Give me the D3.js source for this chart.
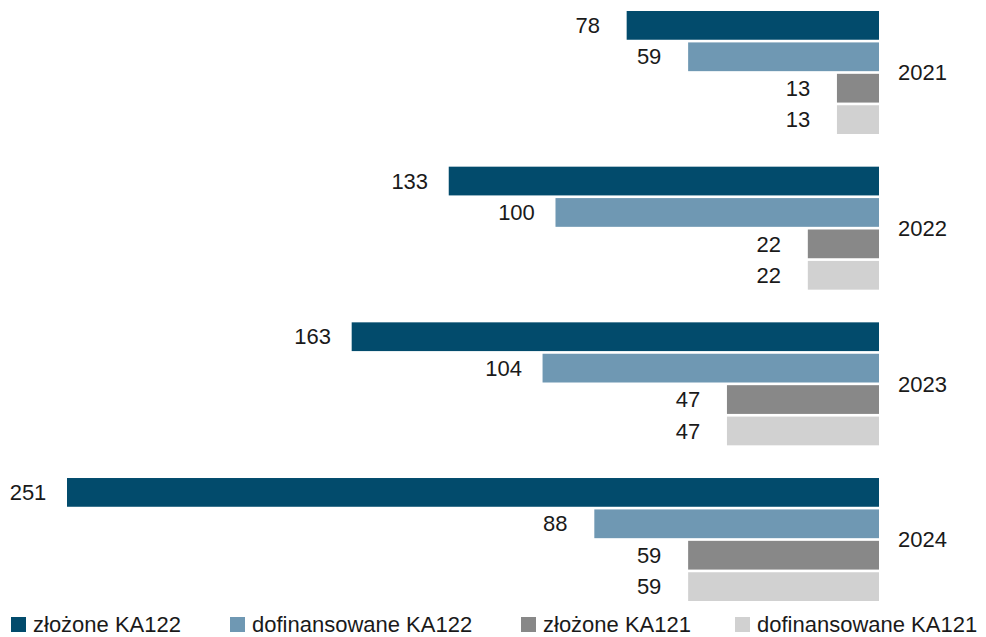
<!DOCTYPE html>
<html lang="pl">
<head>
    <meta charset="UTF-8">
    <title>KA122 / KA121</title>
    <script src="https://d3js.org/d3.v7.min.js"></script>
    <style>
        body { margin: 0; background: #fff; }
        text { font-family: "Liberation Sans", Arial, sans-serif; fill: #1a1a1a; }
    </style>
</head>
<body>
<script>
    // Dane
    const lata = ["2021", "2022", "2023", "2024"];
    const serie = ["złożone KA122", "dofinansowane KA122", "złożone KA121", "dofinansowane KA121"];
    const zlozoneKA122 = [78, 133, 163, 251];
    const dofinansowaneKA122 = [59, 100, 104, 88];
    const zlozoneKA121 = [13, 22, 47, 59];
    const dofinansowaneKA121 = [13, 22, 47, 59];
    const kolory = ["#024b6c", "#6f98b3", "#888888", "#d1d1d1"];

    const width = 986, height = 637;

    const wartosci = [zlozoneKA122, dofinansowaneKA122, zlozoneKA121, dofinansowaneKA121];
    const dane = lata.map((rok, i) => ({
        rok: rok,
        slupki: serie.map((s, j) => ({ seria: s, idx: j, value: wartosci[j][i] }))
    }));

    const svg = d3.select("body").append("svg")
        .attr("width", width)
        .attr("height", height);

    // Skale
    const x = d3.scaleLinear()
        .domain([0, 251])
        .range([879, 67]);

    const y0 = d3.scaleBand()
        .domain(lata)
        .range([11, 601])
        .paddingInner(0.21);

    const y1 = d3.scaleBand()
        .domain(serie)
        .range([0, y0.bandwidth()])
        .paddingInner(0.085);

    const color = d3.scaleOrdinal().domain(serie).range(kolory);

    const grupa = svg.selectAll(".grupa")
        .data(dane)
        .enter().append("g")
        .attr("class", "grupa")
        .attr("transform", d => "translate(0," + y0(d.rok) + ")");

    // Słupki
    grupa.selectAll("rect")
        .data(d => d.slupki)
        .enter().append("rect")
        .attr("x", d => x(d.value))
        .attr("y", d => y1(d.seria))
        .attr("width", d => x(0) - x(d.value))
        .attr("height", y1.bandwidth())
        .style("fill", d => color(d.seria));

    // Etykiety wartości
    grupa.selectAll(".wartosc")
        .data(d => d.slupki)
        .enter().append("text")
        .attr("class", "wartosc")
        .attr("x", d => x(d.value) - 39)
        .attr("y", d => y1(d.seria) + y1.bandwidth() / 2)
        .attr("dy", "0.35em")
        .attr("text-anchor", "middle")
        .style("font-size", "22px")
        .text(d => d.value);

    // Etykiety lat
    grupa.append("text")
        .attr("x", x(0) + 19)
        .attr("y", y0.bandwidth() / 2)
        .attr("dy", "0.35em")
        .style("font-size", "22px")
        .text(d => d.rok);

    // Legenda
    const legendaX = d3.scaleOrdinal().domain(serie).range([11, 230, 521, 735]);
    const item = svg.selectAll(".legenda")
        .data(serie)
        .enter().append("g")
        .attr("class", "legenda")
        .attr("transform", d => "translate(" + legendaX(d) + ",0)");

    item.append("rect")
        .attr("x", 0)
        .attr("y", 617)
        .attr("width", 15)
        .attr("height", 15)
        .style("fill", d => color(d));

    item.append("text")
        .attr("x", 22)
        .attr("y", 632)
        .style("font-size", "22px")
        .text(d => d);
</script>
</body>
</html>
